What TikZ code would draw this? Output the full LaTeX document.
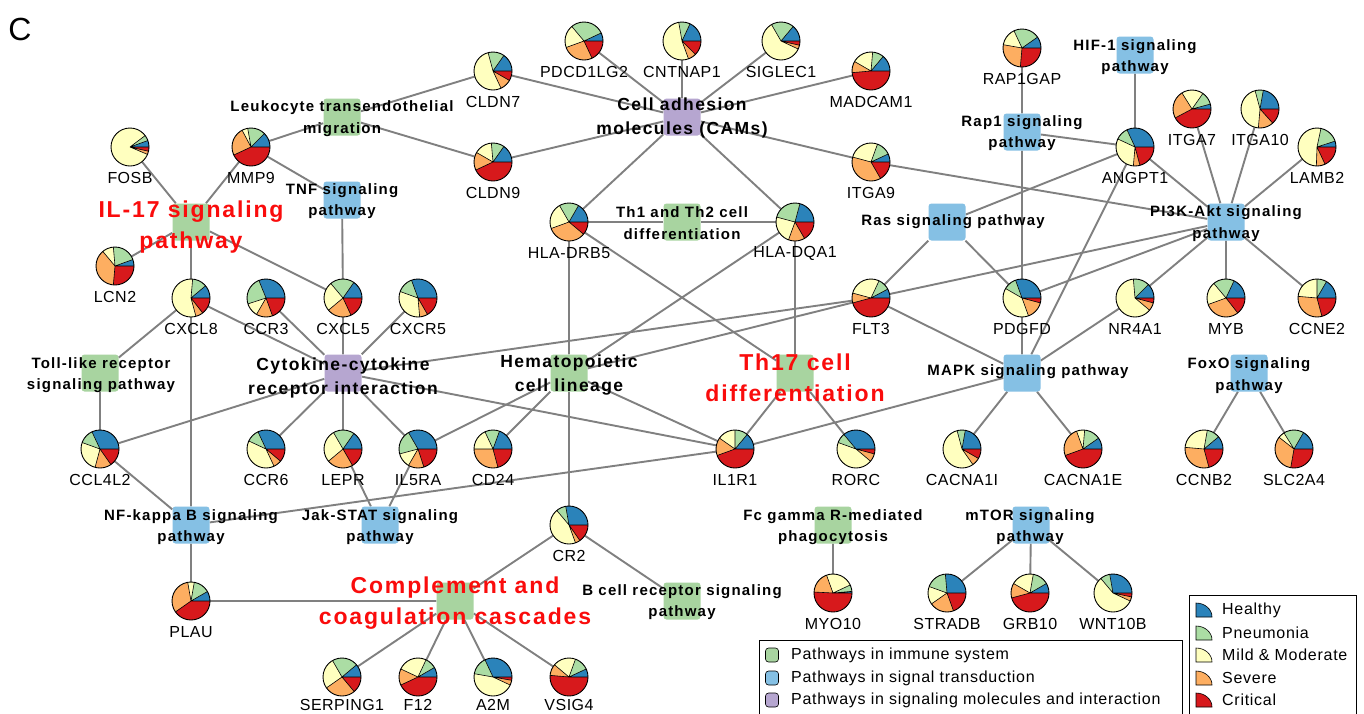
\documentclass[tikz,border=0pt]{standalone}
\usepackage{fontspec}
\setmainfont{Liberation Sans}
\newfontfamily\genefont[LetterSpace=3]{Liberation Sans}
\newfontfamily\legfont[LetterSpace=4.5]{Liberation Sans}
\newfontfamily\pathfont[LetterSpace=8]{Liberation Sans}
\definecolor{hC}{HTML}{2B83BA}
\definecolor{pC}{HTML}{ABDDA4}
\definecolor{mC}{HTML}{FFFFBF}
\definecolor{sC}{HTML}{FDAE61}
\definecolor{cC}{HTML}{D7191C}
\definecolor{immG}{RGB}{168,212,160}
\definecolor{sigB}{RGB}{133,192,228}
\definecolor{molP}{RGB}{182,166,208}
\definecolor{edgeC}{RGB}{128,128,128}
\definecolor{redT}{RGB}{250,12,12}
\pgfdeclarelayer{bg}
\pgfdeclarelayer{edges}
\pgfsetlayers{bg,edges,main}
\tikzset{
  pw/.style={rectangle, rounded corners=3pt, minimum size=37pt, inner sep=0pt},
  immune/.style={pw, fill=immG},
  signal/.style={pw, fill=sigB},
  molec/.style={pw, fill=molP},
  pathlab/.style={font=\pathfont\bfseries\fontsize{15}{21.5}\selectfont, align=center, inner sep=0pt},
  bigpath/.style={font=\pathfont\bfseries\fontsize{17.5}{24}\selectfont, align=center, inner sep=0pt},
  redpath/.style={font=\pathfont\bfseries\fontsize{23}{31}\selectfont, align=center, inner sep=0pt, text=redT},
  genelab/.style={font=\genefont\fontsize{16}{19}\selectfont, inner sep=0pt},
  leglab/.style={font=\legfont\fontsize{16}{19}\selectfont, inner sep=0pt, anchor=west},
  piebase/.style={circle, minimum size=38pt, inner sep=0pt},
  conn/.style={draw=edgeC, line width=1.9pt},
  slice/.style={draw=black, line width=0.6pt},
  pierim/.style={draw=black, line width=0.9pt},
  legsq/.style={rectangle, rounded corners=3pt, minimum width=13pt, minimum height=14pt, inner sep=0pt, draw=black, line width=0.6pt},
  legbox/.style={draw=black, line width=1pt},
}
\newcommand\genepieoff[9]{%
  \node[piebase] (#1) at (#2,-#3) {};
  \fill[hC] (#1.center) -- ++(0:19pt) arc[start angle=0,end angle=#4,radius=19pt] -- cycle;
  \fill[pC] (#1.center) -- ++(#4:19pt) arc[start angle=#4,end angle=#5,radius=19pt] -- cycle;
  \fill[mC] (#1.center) -- ++(#5:19pt) arc[start angle=#5,end angle=#6,radius=19pt] -- cycle;
  \fill[sC] (#1.center) -- ++(#6:19pt) arc[start angle=#6,end angle=#7,radius=19pt] -- cycle;
  \fill[cC] (#1.center) -- ++(#7:19pt) arc[start angle=#7,end angle=360,radius=19pt] -- cycle;
  \draw[slice] (#1.center) -- ++(0:19pt) (#1.center) -- ++(#4:19pt) (#1.center) -- ++(#5:19pt) (#1.center) -- ++(#6:19pt) (#1.center) -- ++(#7:19pt);
  \draw[pierim] (#1.center) circle[radius=19pt];
  \node[genelab] (#1t) at (#2,-#3-#9) {#8};
}
\newcommand\genepie[8]{\genepieoff{#1}{#2}{#3}{#4}{#5}{#6}{#7}{#8}{31}}
\newcommand\legicon[2]{%
  \fill[#1] (1196,-#2-7) -- (1196,-#2+7) arc[start angle=90,end angle=0,x radius=16pt,y radius=14pt] -- cycle;
  \draw[slice] (1196,-#2-7) -- (1196,-#2+7) arc[start angle=90,end angle=0,x radius=16pt,y radius=14pt] -- cycle;
}
\begin{document}
\begin{tikzpicture}[x=1pt,y=1pt]
\useasboundingbox (0,0) rectangle (1364,-713);
\begin{pgfonlayer}{bg}
\fill[white] (0,0) rectangle (1364,-713);
\end{pgfonlayer}
\clip (0,0) rectangle (1364,-713);

\node[font=\fontsize{32}{36}\selectfont, inner sep=0pt] (panel) at (20,-29) {C};

% pathway squares
\node[immune] (LEUK) at (342,-117) {};
\node[immune] (IL17) at (191,-222) {};
\node[immune] (TH12) at (682,-222) {};
\node[immune] (TOLL) at (100,-373) {};
\node[immune] (HEM) at (569,-373) {};
\node[immune] (TH17) at (795,-373) {};
\node[immune] (COMP) at (455,-601) {};
\node[immune] (BCR) at (682,-601) {};
\node[immune] (FCG) at (833,-525) {};
\node[signal] (TNF) at (342,-200) {};
\node[signal] (HIF) at (1135,-55) {};
\node[signal] (RAP1) at (1022,-132) {};
\node[signal] (RAS) at (947,-222) {};
\node[signal] (PI3K) at (1226,-222) {};
\node[signal] (MAPK) at (1022,-373) {};
\node[signal] (FOXO) at (1249,-373) {};
\node[signal] (NFKB) at (191,-525) {};
\node[signal] (JAK) at (380,-525) {};
\node[signal] (MTOR) at (1031,-525) {};
\node[molec] (CAMS) at (682,-117) {};
\node[molec] (CYTO) at (343,-373) {};

% pathway labels
\node[pathlab] (LEUKt) at (342,-118.5) {Leukocyte transendothelial\\migration};
\node[redpath] (IL17t) at (191,-227) {IL-17 signaling\\pathway};
\node[pathlab] (TH12t) at (682,-223) {Th1 and Th2 cell\\differentiation};
\node[pathlab] (TOLLt) at (101,-375) {Toll-like receptor\\signaling pathway};
\node[bigpath] (HEMt) at (569,-375.5) {Hematopoietic\\cell lineage};
\node[redpath] (TH17t) at (795,-377.5) {Th17 cell\\differentiation};
\node[redpath] (COMPt) at (455,-603.5) {Complement and\\coagulation cascades};
\node[pathlab] (BCRt) at (682,-602) {B cell receptor signaling\\pathway};
\node[pathlab] (FCGt) at (833,-527) {Fc gamma R-mediated\\phagocytosis};
\node[pathlab] (TNFt) at (342,-201) {TNF signaling\\pathway};
\node[pathlab] (HIFt) at (1135,-57) {HIF-1 signaling\\pathway};
\node[pathlab] (RAP1t) at (1022,-133) {Rap1 signaling\\pathway};
\node[pathlab] (RASt) at (953,-222) {Ras signaling pathway};
\node[pathlab] (PI3Kt) at (1226,-223.5) {PI3K-Akt signaling\\pathway};
\node[pathlab] (MAPKt) at (1028,-372) {MAPK signaling pathway};
\node[pathlab] (FOXOt) at (1249,-375.5) {FoxO signaling\\pathway};
\node[pathlab] (NFKBt) at (191,-527) {NF-kappa B signaling\\pathway};
\node[pathlab] (JAKt) at (380,-527) {Jak-STAT signaling\\pathway};
\node[pathlab] (MTORt) at (1030,-527) {mTOR signaling\\pathway};
\node[bigpath] (CAMSt) at (682,-118) {Cell adhesion\\molecules (CAMs)};
\node[bigpath] (CYTOt) at (343,-378) {Cytokine-cytokine\\receptor interaction};

% gene pies: name, x, y, cumulative angles (healthy, pneumonia, mild, severe), label
\genepie{FOSB}{130}{147}{20}{37}{337}{347}{FOSB}
\genepie{MMP9}{251}{147}{45}{100}{118}{205}{MMP9}
\genepie{CLDN7}{493}{71}{55}{105}{295}{330}{CLDN7}
\genepie{CLDN9}{493}{162}{55}{95}{150}{205}{CLDN9}
\genepie{PDCD}{584}{41}{25}{130}{200}{295}{PDCD1LG2}
\genepie{CNTNAP}{682}{41}{65}{100}{290}{315}{CNTNAP1}
\genepie{SIGLEC}{781}{41}{50}{120}{335}{347}{SIGLEC1}
\genepie{MADCAM}{871}{71}{50}{85}{150}{185}{MADCAM1}
\genepie{ITGAnine}{871}{162}{25}{70}{165}{300}{ITGA9}
\genepie{RAPGAP}{1022}{48}{35}{115}{170}{265}{RAP1GAP}
\genepie{ANGPT}{1135}{147}{115}{155}{265}{285}{ANGPT1}
\genepie{ITGAseven}{1192}{109}{15}{55}{122}{208}{ITGA7}
\genepie{ITGAten}{1260}{109}{80}{105}{265}{312}{ITGA10}
\genepie{LAMB}{1317}{147}{18}{78}{268}{295}{LAMB2}
\genepie{LCN}{115}{266}{20}{95}{130}{265}{LCN2}
\genepie{CXCLeight}{191}{298}{40}{85}{285}{308}{CXCL8}
\genepie{CCRthree}{266}{298}{112}{198}{240}{290}{CCR3}
\genepie{CXCLfive}{343}{298}{55}{130}{220}{295}{CXCL5}
\genepie{CXCR}{418}{298}{110}{160}{275}{300}{CXCR5}
\genepie{HLADRB}{569}{222}{60}{120}{200}{320}{HLA-DRB5}
\genepie{HLADQA}{795}{222}{75}{165}{250}{300}{HLA-DQA1}
\genepie{FLT}{871}{298}{28}{65}{165}{195}{FLT3}
\genepie{PDGFD}{1022}{298}{110}{150}{290}{345}{PDGFD}
\genepie{NRfour}{1135}{298}{45}{95}{320}{345}{NR4A1}
\genepie{MYB}{1226}{298}{65}{130}{200}{308}{MYB}
\genepie{CCNE}{1317}{298}{60}{90}{175}{285}{CCNE2}
\genepie{CCL}{100}{449}{115}{160}{255}{305}{CCL4L2}
\genepie{CCRsix}{266}{449}{115}{155}{295}{320}{CCR6}
\genepie{LEPR}{343}{449}{55}{120}{220}{300}{LEPR}
\genepie{ILfive}{418}{449}{120}{195}{240}{288}{IL5RA}
\genepie{CDtf}{493}{449}{70}{115}{180}{285}{CD24}
\genepie{ILone}{735}{449}{50}{90}{145}{200}{IL1R1}
\genepie{RORC}{856}{449}{130}{160}{320}{345}{RORC}
\genepie{CACI}{962}{449}{80}{105}{305}{330}{CACNA1I}
\genepie{CACE}{1083}{449}{35}{85}{110}{200}{CACNA1E}
\genepie{CCNB}{1204}{449}{40}{80}{175}{285}{CCNB2}
\genepie{SLC}{1294}{449}{60}{122}{142}{260}{SLC2A4}
\genepie{CRtwo}{569}{525}{100}{130}{290}{305}{CR2}
\genepie{PLAU}{191}{601}{30}{80}{100}{215}{PLAU}
\genepieoff{SERP}{342}{677}{40}{120}{215}{310}{SERPING1}{28}
\genepieoff{Ftw}{418}{677}{30}{65}{155}{205}{F12}{28}
\genepieoff{ATM}{493}{677}{115}{170}{335}{350}{A2M}{28}
\genepieoff{VSIG}{569}{677}{25}{70}{140}{175}{VSIG4}{28}
\genepie{MYO}{833}{593}{5}{25}{110}{177}{MYO10}
\genepie{STRAD}{947}{593}{95}{160}{215}{290}{STRADB}
\genepie{GRB}{1030}{593}{30}{80}{150}{195}{GRB10}
\genepie{WNT}{1113}{593}{100}{130}{335}{348}{WNT10B}

% connectors
\begin{pgfonlayer}{edges}
\draw[conn] (IL17) -- (FOSB) (IL17) -- (MMP9) (IL17) -- (LCN) (IL17) -- (CXCLeight) (IL17) -- (CXCLfive);
\draw[conn] (MMP9) -- (LEUK) (MMP9) -- (TNF) (TNF) -- (CXCLfive);
\draw[conn] (LEUK) -- (CLDN7) (LEUK) -- (CLDN9);
\draw[conn] (CAMS) -- (CLDN7) (CAMS) -- (CLDN9) (CAMS) -- (PDCD) (CAMS) -- (CNTNAP) (CAMS) -- (SIGLEC) (CAMS) -- (MADCAM) (CAMS) -- (ITGAnine) (CAMS) -- (HLADRB) (CAMS) -- (HLADQA);
\draw[conn] (TH12) -- (HLADRB) (TH12) -- (HLADQA);
\draw[conn] (HLADRB) -- (HEM) (HLADRB) -- (TH17) (HLADQA) -- (HEM) (HLADQA) -- (TH17);
\draw[conn] (HEM) -- (ILfive) (HEM) -- (CDtf) (HEM) -- (FLT) (HEM) -- (ILone) (HEM) -- (CRtwo);
\draw[conn] (CYTO) -- (CXCLeight) (CYTO) -- (CCRthree) (CYTO) -- (CXCLfive) (CYTO) -- (CXCR) (CYTO) -- (CCL) (CYTO) -- (CCRsix) (CYTO) -- (LEPR) (CYTO) -- (ILfive) (CYTO) -- (FLT) (CYTO) -- (ILone);
\draw[conn] (TOLL) -- (CXCLeight) (TOLL) -- (CCL);
\draw[conn] (NFKB) -- (CCL) (NFKB) -- (CXCLeight) (NFKB) -- (PLAU) (NFKB) -- (ILone);
\draw[conn] (JAK) -- (LEPR) (JAK) -- (ILfive);
\draw[conn] (TH17) -- (RORC) (TH17) -- (ILone);
\draw[conn] (COMP) -- (PLAU) (COMP) -- (CRtwo) (COMP) -- (SERP) (COMP) -- (Ftw) (COMP) -- (ATM) (COMP) -- (VSIG);
\draw[conn] (CRtwo) -- (BCR) (FCG) -- (MYO);
\draw[conn] (MTOR) -- (STRAD) (MTOR) -- (GRB) (MTOR) -- (WNT);
\draw[conn] (MAPK) -- (PDGFD) (MAPK) -- (FLT) (MAPK) -- (NRfour) (MAPK) -- (ANGPT) (MAPK) -- (CACI) (MAPK) -- (CACE) (MAPK) -- (ILone);
\draw[conn] (RAP1) -- (PDGFD) (RAP1) -- (ANGPT) (RAP1) -- (RAPGAP) (HIF) -- (ANGPT);
\draw[conn] (RAS) -- (ANGPT) (RAS) -- (PDGFD) (RAS) -- (FLT);
\draw[conn] (PI3K) -- (ANGPT) (PI3K) -- (ITGAseven) (PI3K) -- (ITGAten) (PI3K) -- (LAMB) (PI3K) -- (NRfour) (PI3K) -- (MYB) (PI3K) -- (CCNE) (PI3K) -- (PDGFD) (PI3K) -- (FLT) (PI3K) -- (ITGAnine);
\draw[conn] (FOXO) -- (CCNB) (FOXO) -- (SLC);
\end{pgfonlayer}

% legend: pathway categories
\draw[legbox] (759,-640) rectangle (1182,-730);
\node[legsq, fill=immG] (lgA) at (772,-655) {};
\node[legsq, fill=sigB] (lgB) at (772,-678) {};
\node[legsq, fill=molP] (lgC) at (772,-700) {};
\node[leglab] (lgAt) at (791,-655) {Pathways in immune system};
\node[leglab] (lgBt) at (791,-678) {Pathways in signal transduction};
\node[leglab] (lgCt) at (791,-700) {Pathways in signaling molecules and interaction};

% legend: disease groups
\draw[legbox] (1189,-595) rectangle (1356,-730);
\legicon{hC}{610}
\legicon{pC}{633}
\legicon{mC}{655}
\legicon{sC}{678}
\legicon{cC}{700}
\node[leglab] (lhA) at (1222,-610) {Healthy};
\node[leglab] (lhB) at (1222,-633) {Pneumonia};
\node[leglab] (lhC) at (1222,-655) {Mild \& Moderate};
\node[leglab] (lhD) at (1222,-678) {Severe};
\node[leglab] (lhE) at (1222,-700) {Critical};
\end{tikzpicture}
\end{document}
